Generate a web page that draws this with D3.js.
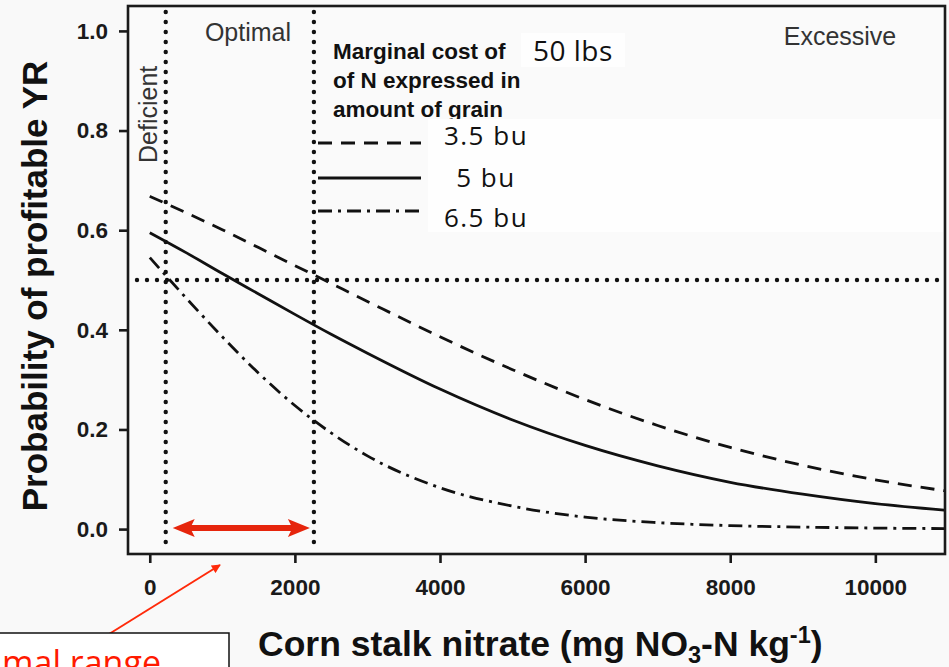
<!DOCTYPE html>
<html>
<head>
<meta charset="utf-8">
<script src="https://cdn.jsdelivr.net/npm/d3@7"></script>
<style>
  html, body { margin: 0; padding: 0; background: #f9f9f9; }
  svg { display: block; }
</style>
</head>
<body>
<svg id="chart" width="949" height="667"></svg>
<script>
// Corn stalk nitrate (mg NO3-N / kg) at which the curves are sampled
const nitrate = [0, 500, 1000, 1500, 2000, 2500, 3000, 4000, 5000, 6000, 7000, 8000, 9000, 10000, 10950];

// Probability of a profitable yield response, one series per marginal N cost
const cost35 = [0.668, 0.635, 0.601, 0.565, 0.529, 0.493, 0.457, 0.386, 0.320, 0.260, 0.208, 0.164, 0.128, 0.099, 0.077];
const cost50 = [0.595, 0.555, 0.513, 0.472, 0.431, 0.391, 0.353, 0.281, 0.219, 0.168, 0.127, 0.094, 0.070, 0.051, 0.038];
const cost65 = [0.545, 0.464, 0.386, 0.313, 0.248, 0.193, 0.147, 0.083, 0.046, 0.024, 0.013, 0.007, 0.004, 0.002, 0.001];

const seriesNames = ["3.5 bu", "5 bu", "6.5 bu"];
const seriesDash = ["14 9", null, "14 6 3 6"];

// Ticks and class boundaries
const xTicks = [0, 2000, 4000, 6000, 8000, 10000];
const yTicks = [0.0, 0.2, 0.4, 0.6, 0.8, 1.0];
const deficientLimit = 220;
const excessiveLimit = 2262;
const thresholdProb = 0.5;

const svg = d3.select("#chart");
const frame = { left: 128, right: 945, top: 6, bottom: 554 };

const x = d3.scaleLinear().domain([-300, 10960]).range([frame.left, frame.right]);
const y = d3.scaleLinear().domain([-0.05, 1.05]).range([frame.bottom, frame.top]);

const sans = "'Liberation Sans', Arial, Helvetica, sans-serif";
const soft = "'Open Sans', 'Noto Sans', sans-serif";

// Plot panel
svg.append("rect")
  .attr("x", frame.left).attr("y", frame.top)
  .attr("width", frame.right - frame.left).attr("height", frame.bottom - frame.top)
  .attr("fill", "#fafafa");

// Class boundary lines (dotted)
const dotted = svg.append("g")
  .attr("stroke", "#111").attr("stroke-width", 4.4)
  .attr("stroke-linecap", "round").attr("stroke-dasharray", "0 10");
[deficientLimit, excessiveLimit].forEach(v => {
  dotted.append("line")
    .attr("x1", x(v)).attr("x2", x(v))
    .attr("y1", frame.top + 6).attr("y2", frame.bottom - 2);
});
dotted.append("line")
  .attr("x1", frame.left + 9).attr("x2", frame.right - 4)
  .attr("y1", y(thresholdProb)).attr("y2", y(thresholdProb));

// Curves
const line = d3.line()
  .x(d => x(d[0]))
  .y(d => y(d[1]))
  .curve(d3.curveMonotoneX);

[cost35, cost50, cost65].forEach((vals, i) => {
  svg.append("path")
    .datum(nitrate.map((n, j) => [n, vals[j]]))
    .attr("fill", "none")
    .attr("stroke", "#111")
    .attr("stroke-width", 2.8)
    .attr("stroke-dasharray", seriesDash[i])
    .attr("d", line);
});

// Frame
svg.append("rect")
  .attr("x", frame.left).attr("y", frame.top)
  .attr("width", frame.right - frame.left).attr("height", frame.bottom - frame.top)
  .attr("fill", "none").attr("stroke", "#1a1a1a").attr("stroke-width", 2.6);

// Axes
const yAxis = svg.append("g")
  .attr("transform", `translate(${frame.left},0)`)
  .call(d3.axisLeft(y).tickValues(yTicks).tickFormat(d3.format(".1f")).tickSize(9).tickPadding(11));
const xAxis = svg.append("g")
  .attr("transform", `translate(0,${frame.bottom + 1})`)
  .call(d3.axisBottom(x).tickValues(xTicks).tickFormat(d3.format("d")).tickSize(8).tickPadding(16));
[yAxis, xAxis].forEach(g => {
  g.select(".domain").remove();
  g.selectAll(".tick line").attr("stroke", "#1a1a1a").attr("stroke-width", 2.6);
  g.selectAll(".tick text")
    .attr("fill", "#1a1a1a")
    .style("font-family", sans).style("font-size", "22.5px").style("font-weight", "bold");
});

// Axis titles
svg.append("text")
  .attr("transform", `translate(47,${(frame.top + frame.bottom) / 2 + 6}) rotate(-90)`)
  .attr("text-anchor", "middle")
  .style("font-family", sans).style("font-size", "35px").style("font-weight", "bold")
  .attr("fill", "#111")
  .text("Probability of profitable YR");

const xTitle = svg.append("text")
  .attr("x", 258).attr("y", 656)
  .style("font-family", sans).style("font-size", "35.5px").style("font-weight", "bold")
  .attr("fill", "#111");
xTitle.append("tspan").text("Corn stalk nitrate (mg NO");
xTitle.append("tspan").attr("dy", 7).style("font-size", "23.5px").text("3");
xTitle.append("tspan").attr("dy", -7).text("-N kg");
xTitle.append("tspan").attr("dy", -13).style("font-size", "23.5px").text("-1");
xTitle.append("tspan").attr("dy", 13).text(")");

// Class labels
const classStyle = sel => sel.style("font-family", sans).style("font-size", "25px").attr("fill", "#333");
svg.append("text").attr("x", 248).attr("y", 41).attr("text-anchor", "middle").text("Optimal").call(classStyle);
svg.append("text").attr("x", 840).attr("y", 45).attr("text-anchor", "middle").text("Excessive").call(classStyle);
svg.append("text")
  .attr("transform", `translate(157,163) rotate(-90)`)
  .text("Deficient").call(classStyle);

// Legend heading
const heading = ["Marginal cost of", "of N expressed in", "amount of grain"];
heading.forEach((t, i) => {
  svg.append("text")
    .attr("x", 333).attr("y", 59 + i * 29)
    .style("font-family", sans).style("font-size", "22.5px").style("font-weight", "bold")
    .attr("fill", "#111")
    .text(t);
});

// Label panels
svg.append("rect").attr("x", 521).attr("y", 33).attr("width", 104).attr("height", 34).attr("fill", "#fefefe");
svg.append("rect").attr("x", 428).attr("y", 119).attr("width", 515).attr("height", 113).attr("fill", "#fefefe");

svg.append("text")
  .attr("x", 533).attr("y", 61)
  .style("font-family", soft).style("font-size", "28px").style("letter-spacing", "0.5px")
  .attr("fill", "#111")
  .text("50 lbs");

// Legend keys
const keyY = [143, 178, 211];
const labelY = [145, 187, 227];
seriesNames.forEach((name, i) => {
  svg.append("line")
    .attr("x1", 318).attr("x2", 421)
    .attr("y1", keyY[i]).attr("y2", keyY[i])
    .attr("stroke", "#111").attr("stroke-width", 2.8)
    .attr("stroke-dasharray", seriesDash[i]);
  svg.append("text")
    .attr("x", 486).attr("y", labelY[i])
    .attr("text-anchor", "middle")
    .style("font-family", soft).style("font-size", "26px").style("letter-spacing", "1.5px")
    .attr("fill", "#111")
    .text(name);
});

// Optimal range double arrow
const red = "#e6250c";
const xl = x(deficientLimit) + 7, xr = x(excessiveLimit) - 4, y0 = y(0) - 1;
const head = 22, hh = 9, sh = 3;
svg.append("path")
  .attr("d", `M${xl},${y0} L${xl + head},${y0 - hh} L${xl + head - 3},${y0 - sh} L${xr - head + 3},${y0 - sh} L${xr - head},${y0 - hh} L${xr},${y0} L${xr - head},${y0 + hh} L${xr - head + 3},${y0 + sh} L${xl + head - 3},${y0 + sh} L${xl + head},${y0 + hh} Z`)
  .attr("fill", red);

// Call-out box and pointer
svg.append("defs").append("marker")
  .attr("id", "tip").attr("viewBox", "0 0 10 10")
  .attr("refX", 9).attr("refY", 5)
  .attr("markerWidth", 10).attr("markerHeight", 9)
  .attr("markerUnits", "userSpaceOnUse")
  .attr("orient", "auto")
  .append("path").attr("d", "M0,0 L10,5 L0,10 Z").attr("fill", "#ff2a0a");
svg.append("line")
  .attr("x1", 93).attr("y1", 644).attr("x2", 220).attr("y2", 565)
  .attr("stroke", "#ff2a0a").attr("stroke-width", 2)
  .attr("marker-end", "url(#tip)");

svg.append("rect")
  .attr("x", -2).attr("y", 633).attr("width", 231).attr("height", 40)
  .attr("fill", "#ffffff").attr("stroke", "#111").attr("stroke-width", 1.5);
svg.append("text")
  .attr("x", 161).attr("y", 675)
  .attr("text-anchor", "end")
  .style("font-family", soft).style("font-size", "34px")
  .attr("fill", "#ff1a00")
  .text("Optimal range");
</script>
</body>
</html>
